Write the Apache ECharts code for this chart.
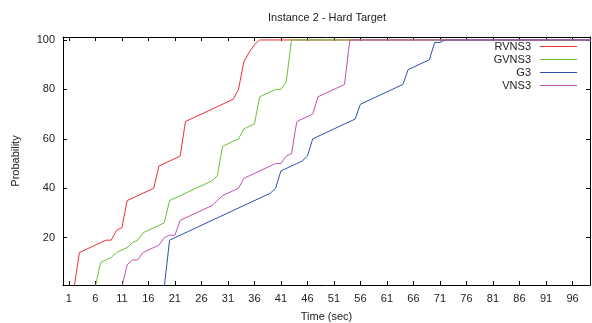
<!DOCTYPE html>
<html>
<head>
<meta charset="utf-8">
<script src="https://cdn.jsdelivr.net/npm/echarts@6/dist/echarts.min.js"></script>
<style>
html,body{margin:0;padding:0;background:#fff;}
#c{width:592px;height:323px;}
</style>
</head>
<body>
<div id="c"></div>
<script>
var xTicks = [1, 6, 11, 16, 21, 26, 31, 36, 41, 46, 51, 56, 61, 66, 71, 76, 81, 86, 91, 96];
var yTicks = [20, 40, 60, 80, 100];

var rvns3 = [[2,0],[3,14],[8,19],[9,19],[10,23],[11,24],[12,35],[17,40],[18,49],[22,53],[23,67],[32,76],[33,80],[34,91],[35,95],[36,98],[37,100],[100,100]];
var gvns3 = [[6,0],[7,10],[9,12],[10,14],[12,16],[13,18],[14,19],[15,22],[19,26],[20,35],[28,43],[29,45],[30,57],[33,60],[34,64],[36,66],[37,77],[40,80],[41,80],[42,83],[43,100],[100,100]];
var g3 = [[19,0],[20,19],[39,38],[40,40],[41,47],[44,50],[45,51],[46,53],[47,60],[55,68],[56,74],[64,82],[65,88],[69,92],[70,99],[71,99],[72,100],[100,100]];
var vns3 = [[11,0],[12,9],[13,11],[14,11],[15,14],[18,17],[19,20],[20,21],[21,21],[22,27],[28,33],[29,35],[30,37],[33,40],[34,44],[40,50],[41,50],[42,53],[43,54],[44,67],[47,70],[48,77],[53,82],[54,100],[100,100]];

var seriesNames = ['RVNS3', 'GVNS3', 'G3', 'VNS3'];
var seriesData = [rvns3, gvns3, g3, vns3];
var seriesColors = ['#f03030', '#6ac03a', '#3050b0', '#c050b0'];

var FONT = 'Liberation Sans, Arial, sans-serif';
var chart = echarts.init(document.getElementById('c'));

function xAx(pos, show) {
  return {
    type: 'value', position: pos, min: -0.1, max: 99.3,
    name: show ? 'Time (sec)' : '', nameLocation: 'middle', nameGap: 26,
    nameTextStyle: {fontFamily: FONT, fontSize: 11, color: '#222'},
    axisLine: {show: true, onZero: false, lineStyle: {color: '#000', width: 1}},
    axisTick: {show: true, inside: true, length: 4, customValues: xTicks, lineStyle: {color: '#000'}},
    axisLabel: {show: show, customValues: xTicks, margin: 8, fontFamily: FONT, fontSize: 11, color: '#222'},
    splitLine: {show: false}
  };
}
function yAx(pos, show) {
  return {
    type: 'value', position: pos, min: 0.85, max: 101.2,
    name: show ? 'Probability' : '', nameLocation: 'middle', nameGap: 42,
    nameTextStyle: {fontFamily: FONT, fontSize: 11, color: '#222'},
    axisLine: {show: true, onZero: false, lineStyle: {color: '#000', width: 1}},
    axisTick: {show: true, inside: true, length: 4, customValues: yTicks, lineStyle: {color: '#000'}},
    axisLabel: {show: show, customValues: yTicks, margin: 8, fontFamily: FONT, fontSize: 11, color: '#222'},
    splitLine: {show: false}
  };
}

chart.setOption({
  animation: false,
  backgroundColor: '#fff',
  title: {
    text: 'Instance 2 - Hard Target', left: 327, top: 12, textAlign: 'center', padding: 0,
    textStyle: {fontFamily: FONT, fontSize: 11, fontWeight: 'normal', color: '#222'}
  },
  legend: {
    orient: 'vertical', right: 15, top: 41, align: 'right', padding: 0,
    icon: 'rect', itemWidth: 37, itemHeight: 1, itemGap: 2,
    textStyle: {fontFamily: FONT, fontSize: 11, color: '#222', padding: [0, 4, 0, 0]},
    data: seriesNames
  },
  grid: {left: 63, right: 2, top: 37, bottom: 38, containLabel: false, outerBoundsMode: 'none'},
  xAxis: [xAx('bottom', true), xAx('top', false)],
  yAxis: [yAx('left', true), yAx('right', false)],
  series: seriesNames.map(function (n, i) {
    return {
      name: n, type: 'line', data: seriesData[i], xAxisIndex: 0, yAxisIndex: 0,
      symbol: 'none', clip: true,
      lineStyle: {color: seriesColors[i], width: 1},
      itemStyle: {color: seriesColors[i]}
    };
  })
});
</script>
</body>
</html>
